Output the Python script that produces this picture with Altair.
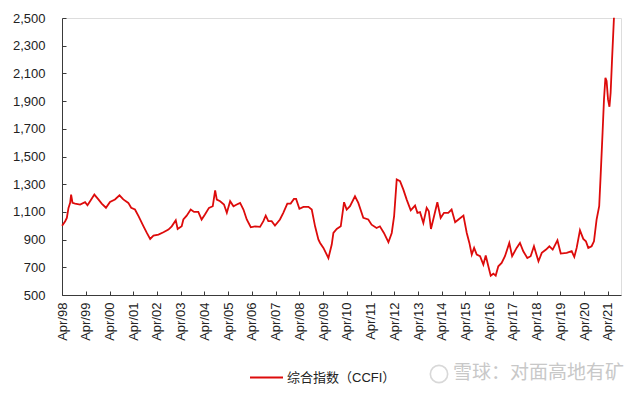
import altair as alt
import pandas as pd

# Decimal years
years_dec = [
    1998.25, 1998.38, 1998.45, 1998.52, 1998.59, 1998.63, 1998.69, 1998.80, 1999.01, 1999.22,
    1999.32, 1999.43, 1999.61, 1999.78, 1999.92, 2000.10, 2000.27, 2000.48, 2000.67, 2000.83,
    2001.04, 2001.16, 2001.32, 2001.47, 2001.68, 2001.82, 2001.96, 2002.10, 2002.31, 2002.52,
    2002.73, 2002.87, 2003.04, 2003.12, 2003.29, 2003.36, 2003.50, 2003.67, 2003.81, 2003.99,
    2004.13, 2004.27, 2004.44, 2004.60, 2004.70, 2004.77, 2004.91, 2005.07, 2005.19, 2005.33,
    2005.47, 2005.61, 2005.75, 2005.89, 2006.03, 2006.20, 2006.38, 2006.59, 2006.73, 2006.83,
    2006.94, 2007.08, 2007.22, 2007.43, 2007.57, 2007.74, 2007.88, 2008.02, 2008.11, 2008.25,
    2008.42, 2008.63, 2008.77, 2008.91, 2009.05, 2009.12, 2009.26, 2009.47, 2009.61, 2009.68,
    2009.82, 2009.99, 2010.13, 2010.24, 2010.38, 2010.59, 2010.73, 2010.94, 2011.15, 2011.29,
    2011.50, 2011.64, 2011.81, 2012.00, 2012.14, 2012.24, 2012.35, 2012.49, 2012.63, 2012.77,
    2012.94, 2013.12, 2013.22, 2013.33, 2013.47, 2013.61, 2013.70, 2013.79, 2013.92, 2014.06,
    2014.20, 2014.34, 2014.52, 2014.66, 2014.81, 2014.95, 2015.16, 2015.30, 2015.41, 2015.51,
    2015.61, 2015.72, 2015.86, 2016.00, 2016.10, 2016.21, 2016.31, 2016.42, 2016.52, 2016.63,
    2016.77, 2016.91, 2017.09, 2017.21, 2017.40, 2017.54, 2017.68, 2017.85, 2017.99, 2018.13,
    2018.32, 2018.46, 2018.64, 2018.78, 2018.92, 2019.12, 2019.26, 2019.51, 2019.72, 2019.83,
    2019.93, 2020.07, 2020.21, 2020.32, 2020.42, 2020.56, 2020.66, 2020.77, 2020.88, 2020.94,
    2021.02, 2021.08, 2021.14, 2021.19, 2021.25, 2021.31, 2021.36, 2021.42, 2021.50,
]
ccfi = [
    1000, 1033, 1057, 1129, 1165, 1225, 1165, 1160, 1153, 1170,
    1148, 1177, 1225, 1190, 1160, 1130, 1172, 1190, 1220, 1190,
    1165, 1130, 1117, 1069, 996, 948, 905, 929, 936, 953,
    972, 996, 1040, 977, 996, 1045, 1073, 1117, 1100, 1100,
    1045, 1081, 1129, 1141, 1255, 1189, 1177, 1153, 1093, 1177,
    1141, 1153, 1165, 1117, 1045, 989, 996, 992, 1033, 1073,
    1033, 1033, 1001, 1045, 1093, 1160, 1160, 1194, 1194, 1122,
    1136, 1136, 1117, 996, 900, 876, 840, 767, 864, 948,
    977, 996, 1170, 1117, 1141, 1213, 1165, 1057, 1045, 1008,
    984, 996, 948, 881, 948, 1069, 1334, 1322, 1261, 1189,
    1112, 1146, 1093, 1098, 1020, 1129, 1105, 977, 1069, 1170,
    1057, 1093, 1093, 1117, 1025, 1045, 1073, 948, 876, 792,
    840, 792, 780, 719, 785, 707, 640, 654, 640, 707,
    731, 780, 876, 780, 840, 876, 816, 767, 780, 852,
    743, 804, 828, 852, 828, 895, 799, 804, 816, 775,
    840, 967, 905, 888, 840, 852, 888, 1045, 1141, 1358,
    1671, 1912, 2069, 2045, 1912, 1859, 1960, 2201, 2502,
]
series_name = "综合指数（CCFI）"
tick_years = list(range(1998, 2022))
y_ticks = list(range(500, 2501, 200))
watermark = "雪球：对面高地有矿"

RED = "#DD0B0B"
AXIS = "#3a3a3a"
FONT = "Liberation Sans, Arial, Noto Sans CJK SC"


def to_ts(y):
    yr = int(y)
    start = pd.Timestamp(year=yr, month=1, day=1)
    return start + pd.Timedelta(days=(y - yr) * 365.25)


df = pd.DataFrame({
    "date": [to_ts(v) for v in years_dec],
    "ccfi": ccfi,
    "series": series_name,
})

tick_vals = [alt.DateTime(year=y, month=4, date=1) for y in tick_years]
x_scale = alt.Scale(domain=[alt.DateTime(year=1998, month=4, date=1),
                            alt.DateTime(year=2021, month=10, date=19)])
y_scale = alt.Scale(domain=[500, 2500], nice=False, zero=False)

line = alt.Chart(df).mark_line(strokeWidth=1.8, clip=False).encode(
    x=alt.X("date:T", scale=x_scale,
            axis=alt.Axis(values=tick_vals, format="%b/%y", labelAngle=270,
                          ticks=False, grid=False, title=None, orient="bottom",
                          domainColor=AXIS, labelColor="#222222",
                          labelFontSize=13, labelFont=FONT, labelPadding=7,
                          labelOverlap=False)),
    y=alt.Y("ccfi:Q", scale=y_scale,
            axis=alt.Axis(values=y_ticks, format=",.0f", ticks=False, grid=False,
                          title=None, orient="left", domainColor=AXIS,
                          labelColor="#222222", labelFontSize=13, labelFont=FONT,
                          labelPadding=17)),
    color=alt.Color("series:N", scale=alt.Scale(range=[RED]),
                    legend=alt.Legend(title=None, orient="none", legendX=187,
                                      legendY=342, symbolType="stroke",
                                      symbolSize=1089, symbolStrokeWidth=2,
                                      labelFontSize=13, labelFont=FONT,
                                      labelColor="#222222", padding=0,
                                      labelOffset=3)),
)

ticks_layer = alt.Chart(df).mark_line(opacity=0).encode(
    x=alt.X("date:T", scale=x_scale,
            axis=alt.Axis(values=tick_vals, orient="bottom", offset=-4,
                          tickSize=4, tickColor=AXIS, labels=False,
                          domain=False, grid=False, title=None)),
    y=alt.Y("ccfi:Q", scale=y_scale,
            axis=alt.Axis(values=y_ticks, orient="left", offset=-4,
                          tickSize=4, tickColor=AXIS, labels=False,
                          domain=False, grid=False, title=None)),
)

wm_df = pd.DataFrame({"t": [watermark]})
wm = alt.Chart(wm_df).mark_text(
    align="left", baseline="middle", fontSize=19, color="#c8c8c8",
    font="Noto Sans CJK SC"
).encode(text="t:N", x=alt.value(391), y=alt.value(355))

logo = alt.Chart(wm_df).mark_point(
    shape="circle", size=300, filled=False, strokeWidth=1.6, color="#c8c8c8"
).encode(x=alt.value(377), y=alt.value(356))

chart = alt.layer(line, ticks_layer, wm, logo).resolve_axis(
    x="independent", y="independent"
).properties(
    width=559, height=277,
    padding={"left": 62, "top": 18, "right": 19, "bottom": 100},
    autosize=alt.AutoSizeParams(type="none"),
).configure_view(stroke=None).configure(background="white")

chart.save("out.html", embed_options={"renderer": "svg", "actions": False})
